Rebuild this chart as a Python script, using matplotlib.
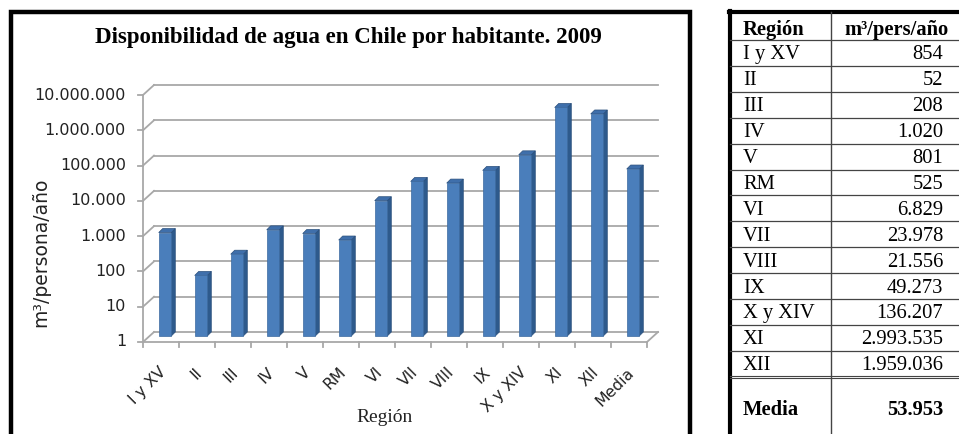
import matplotlib
matplotlib.use("Agg")
import matplotlib.pyplot as plt
from matplotlib.patches import Polygon, Rectangle
from matplotlib.lines import Line2D

# ---- data -------------------------------------------------------------
regions = ["I y XV", "II", "III", "IV", "V", "RM", "VI", "VII", "VIII",
           "IX", "X y XIV", "XI", "XII", "Media"]
values = [854, 52, 208, 1020, 801, 525, 6829, 23978, 21556, 49273,
          136207, 2993535, 1959036, 53953]
y_ticks = [1, 10, 100, 1000, 10000, 100000, 1000000, 10000000]

title = "Disponibilidad de agua en Chile por habitante. 2009"
x_label = "Región"
y_label = "m³/persona/año"
table_header = ["Región", "m³/pers/año"]


def miles(v):
    return f"{v:,}".replace(",", ".")


# ---- figure -----------------------------------------------------------
W, H = 959, 434
fig = plt.figure(figsize=(W / 100, H / 100), dpi=100)
fig.patch.set_facecolor("white")


def fx(x):
    return x / W


def fy(y):
    return 1 - y / H


SANS = ["DejaVu Sans"]
SERIF = ["Liberation Serif", "DejaVu Serif"]

# plot area (front plane) in pixels
AX_L, AX_R, AX_T, AX_B = 143, 647, 95, 342
n = len(regions)
ax = fig.add_axes([fx(AX_L), fy(AX_B), (AX_R - AX_L) / W, (AX_B - AX_T) / H])
ax.set_yscale("log")
ax.set_ylim(y_ticks[0], y_ticks[-1])
ax.set_xlim(0, n)
ax.axis("off")

px_cat = (AX_R - AX_L) / n
px_dec = (AX_B - AX_T) / (len(y_ticks) - 1)


def shift(x, y, dx, dy):
    """Move a data point by a pixel offset on the log axis."""
    return x + dx / px_cat, y * 10 ** (dy / px_dec)


GRID = "#a8a8a8"
WALL = (11, 10)
lw_grid = 1.3

# back wall gridlines, left-side diagonals and ticks
for t in y_ticks:
    x0, y0 = shift(0, t, *WALL)
    x1, y1 = shift(n, t, *WALL)
    ax.plot([x0, x1], [y0, y1], color=GRID, lw=lw_grid, clip_on=False, zorder=1)
    ax.plot([0, x0], [t, y0], color=GRID, lw=lw_grid, clip_on=False, zorder=1)
    tx, ty = shift(0, t, -5, 0)
    ax.plot([tx, 0], [t, t], color=GRID, lw=lw_grid, clip_on=False, zorder=1)
    lx, ly = shift(0, t, -17, 0)
    ax.text(lx, ly, miles(t), ha="right", va="center", fontsize=11.5,
            family=SANS, color="#222222")

# front axis line and floor
ax.plot([0, 0], [y_ticks[0], y_ticks[-1]], color=GRID, lw=lw_grid, clip_on=False, zorder=1)
ax.plot([0, n], [1, 1], color=GRID, lw=lw_grid, clip_on=False, zorder=1)
bx, by = shift(n, 1, *WALL)
ax.plot([n, bx], [1, by], color=GRID, lw=lw_grid, clip_on=False, zorder=1)
for i in range(n + 1):
    tx, ty = shift(i, 1, 0, -5)
    ax.plot([i, i], [1, ty], color=GRID, lw=lw_grid, clip_on=False, zorder=1)

# 3D-style columns
FRONT = "#4a7ebb"
SIDE = "#2e5a8c"
TOP = "#3f6fab"
EDGE = "#2a4f7c"
BAR_OFF = (4, 6)
BAR_W = 0.35
DEPTH = (4, 4)

for i, v in enumerate(values):
    c = i + 0.5
    xl, yb = shift(c - BAR_W / 2, 1, *BAR_OFF)
    xr, yt = shift(c + BAR_W / 2, v, *BAR_OFF)
    xrb, ybb = shift(xr, yb, *DEPTH)
    _, ytb = shift(xr, yt, *DEPTH)
    xlb, _ = shift(xl, yt, *DEPTH)
    side = Polygon([(xr, yb), (xr, yt), (xrb, ytb), (xrb, ybb)], closed=True,
                   facecolor=SIDE, edgecolor=EDGE, lw=0.5, clip_on=False, zorder=3)
    top = Polygon([(xl, yt), (xr, yt), (xrb, ytb), (xlb, ytb)], closed=True,
                  facecolor=TOP, edgecolor=EDGE, lw=0.5, clip_on=False, zorder=3)
    front = Polygon([(xl, yb), (xr, yb), (xr, yt), (xl, yt)], closed=True,
                    facecolor=FRONT, edgecolor="#3c6aa0", lw=0.5, clip_on=False, zorder=4)
    for p in (side, top, front):
        ax.add_patch(p)

    lx, ly = shift(c, 1, 3, -28)
    ax.text(lx, ly, regions[i], rotation=45, ha="right", va="center",
            rotation_mode="anchor", fontsize=11.3, family=SANS, color="#222222")

# titles
fig.text(fx(348.5), fy(37), title, ha="center", va="center", fontsize=16.5,
         fontweight="bold", family=SERIF, color="black")
fig.text(fx(385), fy(418), x_label, ha="center", va="center", fontsize=14,
         family=SERIF, color="#222222")
fig.text(fx(41), fy(252), y_label, ha="center", va="center", rotation=90,
         fontsize=13.5, family=SANS, color="#222222")

# chart frame
fig.add_artist(Rectangle((fx(10.5), fy(445)), (689.5 - 10.5) / W, (445 - 11.5) / H,
                         transform=fig.transFigure, fill=False, edgecolor="black",
                         lw=3.2))

# ---- table ------------------------------------------------------------
T_L, T_TOP, T_DIV = 730, 12, 831
ROW0, ROW_H = 40, 25.9
rows = len(regions) - 1
TFS = 14.8


def hline(y, x0, x1, lw, color):
    fig.add_artist(Line2D([fx(x0), fx(x1)], [fy(y), fy(y)],
                          transform=fig.transFigure, lw=lw, color=color))


def vline(x, y0, y1, lw, color):
    fig.add_artist(Line2D([fx(x), fx(x)], [fy(y0), fy(y1)],
                          transform=fig.transFigure, lw=lw, color=color))


hline(T_TOP, T_L - 1, W + 5, 3.0, "black")
vline(T_L, T_TOP - 1, H + 5, 3.0, "black")
vline(T_DIV, T_TOP, H + 5, 1.0, "#444444")
for k in range(rows + 1):
    y = ROW0 + ROW_H * k
    if k == rows:
        hline(y - 1.2, T_L, W + 5, 0.8, "#444444")
        hline(y + 1.2, T_L, W + 5, 0.8, "#444444")
    else:
        hline(y, T_L, W + 5, 0.9, "#444444")

COL1_X, COL2_X = 743, 943
fig.text(fx(COL1_X), fy(35), table_header[0], ha="left",
         va="baseline", fontsize=TFS, fontweight="bold", family=SERIF)
fig.text(fx(897), fy(35), table_header[1], ha="center",
         va="baseline", fontsize=TFS, fontweight="bold", family=SERIF)
for k in range(rows):
    yb = ROW0 + ROW_H * (k + 0.5) + 6.5
    fig.text(fx(COL1_X), fy(yb), regions[k], ha="left", va="baseline",
             fontsize=TFS, family=SERIF)
    fig.text(fx(COL2_X), fy(yb), miles(values[k]), ha="right", va="baseline",
             fontsize=TFS, family=SERIF)
fig.text(fx(COL1_X), fy(415), regions[-1], ha="left", va="baseline",
         fontsize=TFS, fontweight="bold", family=SERIF)
fig.text(fx(COL2_X), fy(415), miles(values[-1]), ha="right", va="baseline",
         fontsize=TFS, fontweight="bold", family=SERIF)

fig.savefig("out.png", dpi=100)
